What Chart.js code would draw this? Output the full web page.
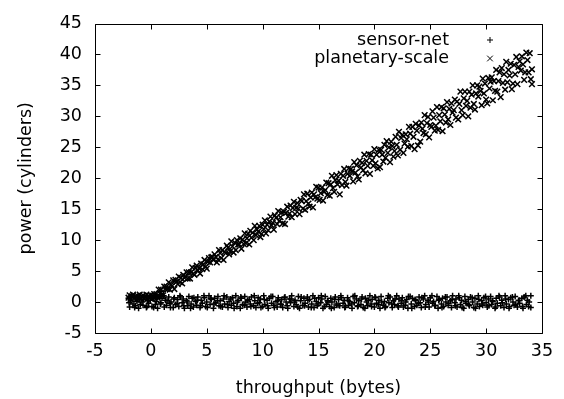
<!DOCTYPE html>
<html>
<head>
<meta charset="utf-8">
<script src="https://cdn.jsdelivr.net/npm/chart.js@4/dist/chart.umd.min.js"></script>
<style>
  html, body { margin: 0; padding: 0; background: #fff; }
  #wrap { width: 564px; height: 399px; }
</style>
</head>
<body>
<div id="wrap"><canvas id="chart" width="564" height="399"></canvas></div>
<script>
// scatter: power vs throughput, two series

const xTitle = "throughput (bytes)";
const yTitle = "power (cylinders)";
const seriesNames = ["sensor-net", "planetary-scale"];

// [throughput, power]
const sensorNet = [
  [-2.0,0.6],[-1.9,-0.8],[-1.8,0.2],[-1.6,-0.3],[-1.5,0.9],[-1.4,-0.6],[-1.2,0.4],[-1.1,-1.0],[-1.0,0.7],[-0.8,0.0],
  [-0.7,-0.5],[-0.6,0.8],[-0.4,-0.9],[-0.3,0.3],[-0.2,-0.2],[0.0,1.0],[0.1,-0.7],[0.2,0.5],[0.4,-0.4],[0.5,0.1],
  [0.6,-1.0],[0.8,0.9],[0.9,-0.1],[1.0,0.6],[1.2,-0.8],[1.3,0.3],[1.4,-0.5],[1.6,0.8],[1.7,-0.2],[1.8,0.0],
  [2.0,-0.9],[2.1,0.7],[2.2,-0.4],[2.4,0.4],[2.5,-0.7],[2.6,1.0],[2.8,-0.1],[2.9,0.5],[3.0,-1.0],[3.2,0.2],
  [3.3,-0.6],[3.4,0.9],[3.6,-0.3],[3.7,0.6],[3.8,-0.8],[4.0,0.1],[4.1,-0.5],[4.2,0.8],[4.4,-0.9],[4.5,0.3],
  [4.6,-0.2],[4.8,0.7],[4.9,-0.7],[5.0,0.0],[5.2,1.0],[5.3,-0.4],[5.4,0.4],[5.6,-1.0],[5.7,0.6],[5.8,-0.1],
  [6.0,0.9],[6.1,-0.6],[6.2,0.2],[6.4,-0.8],[6.5,0.5],[6.6,-0.3],[6.8,0.8],[6.9,-0.9],[7.0,0.1],[7.2,-0.5],
  [7.3,0.7],[7.4,-0.2],[7.6,1.0],[7.7,-0.7],[7.8,0.3],[8.0,-1.0],[8.1,0.6],[8.2,-0.4],[8.4,0.9],[8.5,0.0],
  [8.6,-0.8],[8.8,0.4],[8.9,-0.3],[9.0,0.8],[9.2,-0.6],[9.3,0.2],[9.4,-0.9],[9.6,0.7],[9.7,-0.1],[9.8,0.5],
  [10.0,-0.7],[10.1,1.0],[10.2,-0.4],[10.4,0.3],[10.5,-1.0],[10.6,0.6],[10.8,-0.2],[10.9,0.9],[11.0,-0.5],[11.2,0.1],
  [11.3,-0.8],[11.4,0.7],[11.6,-0.3],[11.7,0.4],[11.8,-0.9],[12.0,0.8],[12.1,0.0],[12.2,-0.6],[12.4,0.5],[12.5,-0.1],
  [12.6,1.0],[12.8,-0.7],[12.9,0.3],[13.0,-0.4],[13.2,0.9],[13.3,-1.0],[13.4,0.2],[13.6,-0.5],[13.7,0.6],[13.8,-0.2],
  [14.0,0.8],[14.1,-0.8],[14.2,0.4],[14.4,-0.3],[14.5,1.0],[14.6,-0.9],[14.8,0.1],[14.9,-0.6],[15.0,0.7],[15.2,-0.1],
  [15.3,0.5],[15.4,-1.0],[15.6,0.9],[15.7,-0.4],[15.8,0.2],[16.0,-0.7],[16.1,0.6],[16.2,0.0],[16.4,-0.9],[16.5,0.8],
  [16.6,-0.3],[16.8,0.4],[16.9,-0.6],[17.0,1.0],[17.2,-0.2],[17.3,0.3],[17.4,-0.8],[17.6,0.7],[17.7,-0.5],[17.8,0.1],
  [18.0,-1.0],[18.1,0.9],[18.2,-0.1],[18.4,0.5],[18.5,-0.7],[18.6,0.2],[18.8,-0.4],[18.9,0.8],[19.0,-0.9],[19.2,0.6],
  [19.3,0.0],[19.4,-0.6],[19.6,1.0],[19.7,-0.3],[19.8,0.4],[20.0,-0.8],[20.1,0.7],[20.2,-0.2],[20.4,0.3],[20.5,-1.0],
  [20.6,0.9],[20.8,-0.5],[20.9,0.1],[21.0,-0.7],[21.2,0.6],[21.3,-0.1],[21.4,0.8],[21.6,-0.9],[21.7,0.2],[21.8,-0.4],
  [22.0,1.0],[22.1,-0.6],[22.2,0.5],[22.4,-0.2],[22.5,0.7],[22.6,-0.8],[22.8,0.0],[22.9,0.4],[23.0,-1.0],[23.2,0.9],
  [23.3,-0.3],[23.4,0.6],[23.6,-0.7],[23.7,0.2],[23.8,-0.5],[24.0,0.8],[24.1,-0.1],[24.2,-0.9],[24.4,0.5],[24.5,1.0],
  [24.6,-0.4],[24.8,0.3],[24.9,-0.8],[25.0,0.7],[25.2,-0.2],[25.3,0.1],[25.4,-0.6],[25.6,0.9],[25.7,-1.0],[25.8,0.4],
  [26.0,-0.3],[26.1,0.6],[26.2,-0.7],[26.4,0.0],[26.5,0.8],[26.6,-0.5],[26.8,0.2],[26.9,-0.9],[27.0,1.0],[27.2,-0.1],
  [27.3,0.5],[27.4,-0.8],[27.6,0.7],[27.7,-0.4],[27.8,0.3],[28.0,-1.0],[28.1,0.9],[28.2,-0.2],[28.4,0.4],[28.5,-0.6],
  [28.6,0.8],[28.8,0.0],[28.9,-0.9],[29.0,0.6],[29.2,-0.3],[29.3,1.0],[29.4,-0.7],[29.6,0.2],[29.7,-0.5],[29.8,0.7],
  [30.0,-0.1],[30.1,-0.8],[30.2,0.5],[30.4,0.9],[30.5,-0.4],[30.6,0.1],[30.8,-1.0],[30.9,0.6],[31.0,-0.2],[31.2,0.8],
  [31.3,-0.6],[31.4,0.3],[31.6,-0.9],[31.7,1.0],[31.8,-0.3],[32.0,0.4],[32.1,-0.7],[32.2,0.7],[32.4,0.0],[32.5,-0.5],
  [32.6,0.9],[32.8,-0.8],[32.9,0.2],[33.0,-0.2],[33.2,0.6],[33.3,-1.0],[33.4,0.8],[33.6,-0.4],[33.7,0.3],[33.8,-0.7],
  [34.0,1.0],[34.0,-0.9],
  [-1.95,-0.1],[-1.75,0.8],[-1.45,-0.9],[-1.25,0.1],[-0.95,-0.4],[-0.65,0.5],[-0.35,-0.7],[-0.05,0.3],[0.25,-0.9],[0.55,0.7],
  [0.85,-0.3],[1.15,1.0],[1.45,0.2],[1.75,-0.9],[2.05,0.5],[2.35,-0.2],[2.65,0.8],[2.95,-0.6],[3.25,0.0],[3.55,-1.0],
  [3.85,0.7],[4.15,0.3],[4.45,-0.6],[4.75,1.0],[5.05,-0.9],[5.35,0.6],[5.65,-0.3],[5.95,0.2],[6.25,-0.7],[6.55,1.0],
  [6.85,-0.4],[7.15,0.5],[7.45,-1.0],[7.75,0.0],[8.05,0.8],[8.35,-0.5],[8.65,0.3],[8.95,-0.7],[9.25,1.0],[9.55,-0.2],
  [9.85,-0.9],[10.15,0.4],[10.45,-0.6],[10.75,0.9],[11.05,-0.9],[11.35,0.2],[11.65,-0.4],[11.95,0.7],[12.25,-1.0],[12.55,0.5],
  [12.85,0.0],[13.15,-0.8],[13.45,0.8],[13.75,-0.6],[14.05,0.3],[14.35,-0.9],[14.65,0.6],[14.95,-0.3],[15.25,1.0],[15.55,-0.7],
  [15.85,0.0],[16.15,-1.0],[16.45,0.4],[16.75,-0.5],[17.05,0.7],[17.35,-0.9],[17.65,0.2],[17.95,-0.3],[18.25,1.0],[18.55,-0.6],
  [18.85,0.5],[19.15,-1.0],[19.45,0.3],[19.75,-0.7],[20.05,0.8],[20.35,-0.4],[20.65,0.0],[20.95,-0.9],[21.25,1.0],[21.55,-0.3],
  [21.85,0.5],[22.15,-0.8],[22.45,0.2],[22.75,-0.5],[23.05,0.9],[23.35,-1.0],[23.65,0.4],[23.95,-0.2],[24.25,0.7],[24.55,-0.8],
  [24.85,0.0],[25.15,1.0],[25.45,-0.5],[25.75,0.3],[26.05,-0.9],[26.35,0.8],[26.65,-0.2],[26.95,0.4],[27.25,-0.6],[27.55,1.0],
  [27.85,-0.9],[28.15,0.1],[28.45,-0.4],[28.75,0.7],[29.05,-1.0],[29.35,0.4],[29.65,-0.3],[29.95,0.9],[30.25,-0.6],[30.55,0.2],
  [30.85,-0.8],[31.15,1.0],[31.45,-0.1],[31.75,0.5],[32.05,-1.0],[32.35,0.8],[32.65,-0.4],[32.95,0.3],[33.25,-0.7],[33.55,1.0],
  [33.85,0.0]
];

const planetaryScale = [
  // flat start, overlapping the sensor-net band
  [-2.0,0.7],[-1.9,1.1],[-1.8,0.5],[-1.7,0.9],[-1.6,1.2],[-1.5,0.6],[-1.4,0.9],[-1.3,0.4],[-1.2,1.0],[-1.1,0.7],
  [-1.0,1.2],[-0.9,0.5],[-0.8,0.9],[-0.7,1.1],[-0.6,0.6],[-0.5,0.8],[-0.4,1.2],[-0.3,0.5],[-0.2,1.0],[-0.1,0.7],
  [0.0,1.1],[0.1,0.6],[0.2,0.9],[0.3,1.3],[0.4,0.8],
  // rising band
  [0.5,1.3],[0.6,0.7],[0.7,2.0],[0.8,1.4],[0.9,2.0],[1.0,1.3],[1.1,1.1],[1.2,2.5],[1.3,2.1],[1.4,2.5],
  [1.5,2.1],[1.6,3.2],[1.7,2.0],[1.8,2.8],[1.9,2.6],[2.0,3.5],[2.1,2.1],[2.2,3.6],[2.3,3.3],[2.4,2.9],
  [2.5,4.1],[2.6,3.2],[2.7,3.9],[2.8,3.0],[2.9,4.4],[3.0,3.9],[3.1,4.1],[3.2,4.8],[3.3,3.8],[3.4,4.8],
  [3.5,3.8],[3.6,4.8],[3.7,5.6],[3.8,4.6],[3.9,4.4],[4.0,5.5],[4.1,5.9],[4.2,5.1],[4.3,5.5],[4.4,4.6],
  [4.5,6.2],[4.6,5.3],[4.7,6.1],[4.8,6.8],[4.9,5.7],[5.0,5.4],[5.1,6.5],[5.2,7.1],[5.3,6.4],[5.4,7.2],
  [5.5,7.3],[5.6,6.8],[5.7,7.7],[5.8,7.3],[5.9,6.4],[6.0,6.9],[6.1,8.4],[6.2,7.9],[6.3,7.1],[6.4,8.4],
  [6.5,6.8],[6.6,8.1],[6.7,7.9],[6.8,9.1],[6.9,8.8],[7.0,7.7],[7.1,8.2],[7.2,9.8],[7.3,9.0],[7.4,8.0],
  [7.5,9.6],[7.6,8.4],[7.7,10.0],[7.8,9.3],[7.9,9.3],[8.0,10.3],[8.1,8.6],[8.2,10.1],[8.3,9.4],[8.4,11.1],
  [8.5,9.5],[8.6,10.3],[8.7,11.0],[8.8,9.3],[8.9,11.5],[9.0,10.4],[9.1,11.2],[9.2,10.0],[9.3,12.3],[9.4,10.8],
  [9.5,11.7],[9.6,11.4],[9.7,12.3],[9.8,10.5],[9.9,11.0],[10.0,12.5],[10.1,11.8],[10.2,13.2],[10.3,11.1],[10.4,12.5],
  [10.5,11.6],[10.6,13.0],[10.7,13.8],[10.8,12.4],[10.9,12.8],[11.0,11.7],[11.1,14.0],[11.2,13.6],[11.3,12.6],[11.4,14.7],
  [11.5,13.1],[11.6,13.7],[11.7,14.5],[11.8,12.7],[11.9,14.6],[12.0,12.6],[12.1,14.4],[12.2,15.4],[12.3,13.8],[12.4,14.3],
  [12.5,15.6],[12.6,13.7],[12.7,15.2],[12.8,16.2],[12.9,14.2],[13.0,15.2],[13.1,16.0],[13.2,15.1],[13.3,14.2],[13.4,16.5],
  [13.5,16.3],[13.6,15.1],[13.7,17.4],[13.8,14.9],[13.9,16.3],[14.0,17.5],[14.1,15.9],[14.2,15.4],[14.3,16.9],[14.4,17.7],
  [14.5,15.3],[14.6,17.4],[14.7,16.9],[14.8,18.6],[14.9,16.7],[15.0,18.5],[15.1,16.5],[15.2,17.6],[15.3,18.5],[15.4,16.4],
  [15.5,17.8],[15.6,18.1],[15.7,19.3],[15.8,17.3],[15.9,19.2],[16.0,17.2],[16.1,19.0],[16.2,20.4],[16.3,18.4],[16.4,17.8],
  [16.5,19.7],[16.6,20.5],[16.7,19.0],[16.8,19.6],[16.9,17.4],[17.0,20.7],[17.1,18.9],[17.2,20.4],[17.3,21.5],[17.4,19.4],
  [17.5,18.8],[17.6,20.7],[17.7,21.6],[17.8,20.4],[17.9,21.5],[18.0,21.1],[18.1,19.5],[18.2,22.6],[18.3,20.9],[18.4,22.1],
  [18.5,20.3],[18.6,19.8],[18.7,22.8],[18.8,21.7],[18.9,22.5],[19.0,21.3],[19.1,23.8],[19.2,20.8],[19.3,22.8],[19.4,22.0],
  [19.5,23.9],[19.6,20.7],[19.7,23.8],[19.8,22.9],[19.9,22.0],[20.0,24.7],[20.1,22.4],[20.2,23.8],[20.3,21.6],[20.4,24.6],
  [20.5,21.8],[20.6,24.6],[20.7,23.8],[20.8,22.7],[20.9,25.4],[21.0,23.3],[21.1,26.0],[21.2,24.1],[21.3,25.0],[21.4,22.6],
  [21.5,25.9],[21.6,25.2],[21.7,23.5],[21.8,24.4],[21.9,26.7],[22.0,25.4],[22.1,23.7],[22.2,27.5],[22.3,24.6],[22.4,26.5],
  [22.5,27.0],[22.6,24.1],[22.7,25.6],[22.8,27.1],[22.9,26.3],[23.0,25.1],[23.1,28.3],[23.2,27.2],[23.3,25.2],[23.4,28.3],
  [23.5,26.7],[23.6,24.7],[23.7,28.8],[23.8,27.7],[23.9,25.3],[24.0,28.5],[24.1,25.9],[24.2,29.0],[24.3,28.0],[24.4,27.3],
  [24.5,30.2],[24.6,27.1],[24.7,28.9],[24.8,29.9],[24.9,26.6],[25.0,28.6],[25.1,28.3],[25.2,30.8],[25.3,29.8],[25.4,27.7],
  [25.5,28.5],[25.6,31.5],[25.7,27.8],[25.8,30.2],[25.9,29.2],[26.0,31.5],[26.1,27.6],[26.2,31.3],[26.3,30.3],[26.4,29.0],
  [26.5,32.3],[26.6,29.5],[26.7,31.2],[26.8,28.6],[26.9,32.1],[27.0,30.6],[27.1,31.0],[27.2,32.7],[27.3,29.8],[27.4,32.4],
  [27.5,29.5],[27.6,32.0],[27.7,34.0],[27.8,31.0],[27.9,30.2],[28.0,32.9],[28.1,34.0],[28.2,31.7],[28.3,32.5],[28.4,30.0],
  [28.5,34.0],[28.6,31.4],[28.7,33.5],[28.8,35.0],[28.9,32.0],[29.0,31.1],[29.1,33.7],[29.2,35.0],[29.3,33.2],[29.4,34.8],
  [29.5,34.1],[29.6,31.8],[29.7,36.1],[29.8,33.7],[29.9,35.3],[30.0,32.7],[30.1,32.1],[30.2,36.2],[30.3,34.5],[30.4,35.6],
  [30.5,36.3],[30.6,32.6],[30.7,35.7],[30.8,34.1],[30.9,37.5],[31.0,34.0],[31.1,35.7],[31.2,37.1],[31.3,33.1],[31.4,37.8],
  [31.5,35.4],[31.6,36.8],[31.7,34.3],[31.8,38.8],[31.9,35.5],[32.0,37.5],[32.1,36.6],[32.2,38.5],[32.3,34.4],[32.4,35.3],
  [32.5,38.3],[32.6,36.8],[32.7,39.6],[32.8,35.2],[32.9,38.0],[33.0,38.9],[33.1,37.4],[33.2,39.7],[33.3,38.4],[33.4,35.9],
  [33.5,37.1],[33.6,40.3],[33.7,39.1],[33.8,37.1],[33.9,40.2],[34.0,36.0],[34.1,35.2],[34.1,37.6]
];

const xRange = [-5, 35];
const yRange = [-5, 45];
const tickStep = 5;

const fontFamily = "'DejaVu Sans', 'Liberation Sans', sans-serif";
Chart.defaults.font.family = fontFamily;
Chart.defaults.font.size = 17.5;
Chart.defaults.color = "#000";

const toPts = arr => arr.map(p => ({ x: p[0], y: p[1] }));

// gnuplot style frame: border plus inward ticks on all four sides
const framePlugin = {
  id: "frame",
  afterDatasetsDraw(chart) {
    const { ctx, chartArea: a, scales } = chart;
    const len = 5;
    const left = Math.round(a.left) + 0.5, right = Math.round(a.right) + 0.5;
    const top = Math.round(a.top) + 0.5, bottom = Math.round(a.bottom) + 0.5;
    ctx.save();
    ctx.strokeStyle = "#000";
    ctx.lineWidth = 1;
    ctx.beginPath();
    scales.x.ticks.forEach(t => {
      const px = Math.round(scales.x.getPixelForValue(t.value)) + 0.5;
      ctx.moveTo(px, bottom); ctx.lineTo(px, bottom - len);
      ctx.moveTo(px, top); ctx.lineTo(px, top + len);
    });
    scales.y.ticks.forEach(t => {
      const py = Math.round(scales.y.getPixelForValue(t.value)) + 0.5;
      ctx.moveTo(left, py); ctx.lineTo(left + len, py);
      ctx.moveTo(right, py); ctx.lineTo(right - len, py);
    });
    ctx.rect(left, top, right - left, bottom - top);
    ctx.stroke();
    ctx.restore();
  }
};

// key in the top right corner: label, then marker
const keyPlugin = {
  id: "key",
  afterDraw(chart) {
    const { ctx, chartArea: a } = chart;
    ctx.save();
    ctx.font = "17.5px " + fontFamily;
    ctx.fillStyle = "#000";
    ctx.strokeStyle = "#000";
    ctx.textAlign = "right";
    ctx.textBaseline = "middle";
    chart.data.datasets.forEach((ds, i) => {
      const y = a.top + 16.5 + i * 18.5;
      ctx.fillText(ds.label, a.right - 93, y);
      ctx.lineWidth = 1;
      Chart.helpers.drawPoint(ctx, {
        pointStyle: ds.pointStyle, radius: ds.pointRadius, borderWidth: 1, rotation: 0
      }, a.right - 52, y);
    });
    ctx.restore();
  }
};

new Chart(document.getElementById("chart"), {
  type: "scatter",
  data: {
    datasets: [
      {
        label: seriesNames[0],
        data: toPts(sensorNet),
        pointStyle: "cross",
        pointRadius: 3,
        borderColor: "#000",
        borderWidth: 1.5,
        order: 2
      },
      {
        label: seriesNames[1],
        data: toPts(planetaryScale),
        pointStyle: "crossRot",
        pointRadius: 4,
        borderColor: "#000",
        borderWidth: 1.5,
        order: 1
      }
    ]
  },
  options: {
    responsive: false,
    animation: false,
    layout: { padding: { top: 18, right: 22, left: 0, bottom: 0 } },
    plugins: {
      legend: { display: false },
      tooltip: { enabled: false }
    },
    elements: { point: { hoverRadius: 3 } },
    scales: {
      x: {
        type: "linear",
        min: xRange[0],
        max: xRange[1],
        ticks: { stepSize: tickStep, padding: 8, color: "#000", maxRotation: 0 },
        grid: { display: false, drawTicks: false },
        border: { display: false },
        title: { display: true, text: xTitle, color: "#000", padding: { top: 0, bottom: 0.5 } },
        afterFit(s) { s.height = 66; }
      },
      y: {
        type: "linear",
        min: yRange[0],
        max: yRange[1],
        ticks: { stepSize: tickStep, padding: 13, color: "#000" },
        grid: { display: false, drawTicks: false },
        border: { display: false },
        title: { display: true, text: yTitle, color: "#000", padding: { top: 15.5, bottom: 0 } },
        afterFit(s) { s.width = 95; }
      }
    }
  },
  plugins: [framePlugin, keyPlugin]
});
</script>
</body>
</html>
